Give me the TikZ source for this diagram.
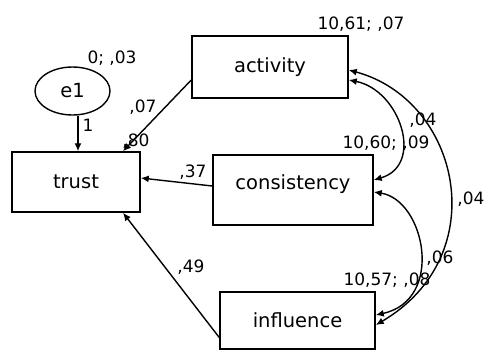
\documentclass[tikz,border=0pt]{standalone}
\usepackage{fontspec}
\setmainfont{DejaVu Sans}
\usetikzlibrary{arrows.meta,shapes.geometric}
\begin{document}
\begin{tikzpicture}[x=1pt,y=-1pt,
  varbox/.style={draw,line width=1.5pt,inner sep=0pt,font=\fontsize{19.5}{21}\selectfont},
  errnode/.style={draw,ellipse,line width=1.4pt,inner sep=0pt,minimum width=75pt,minimum height=48pt,font=\fontsize{19.5}{21}\selectfont},
  num/.style={inner sep=0pt,font=\fontsize{17}{19}\selectfont},
  path/.style={line width=1.4pt,-{Latex[length=8pt,width=7pt]}},
  cov/.style={line width=1.4pt,{Latex[length=8pt,width=7pt]}-{Latex[length=8pt,width=7pt]}}]
\useasboundingbox (0,0) rectangle (485,351);
\node[varbox,minimum width=156pt,minimum height=62pt] (act) at (270,67) {activity};
\node[varbox,minimum width=128pt,minimum height=60pt] (trust) at (76,182) {trust};
\node[varbox,minimum width=160pt,minimum height=70pt,text depth=16pt] (cons) at (293,190) {consistency};
\node[varbox,minimum width=155pt,minimum height=57pt] (inf) at (297.5,320.5) {influence};
\node[errnode] (e1) at (72.5,91) {e1};
% regression paths
\draw[path] (e1.south -| 78,0) -- (trust.north -| 78,0);
\draw[path] ([yshift=-13pt]act.west) -- (trust.north -| 123,0);
\draw[path] ([yshift=4pt]cons.west) -- ([yshift=4pt]trust.east);
\draw[path] ([yshift=-17pt]inf.west) -- (trust.south -| 123,0);
% covariances
\draw[cov] ([yshift=-3pt]act.east) .. controls (460,100) and (495,255) .. ([yshift=-4.5pt]inf.east);
\draw[cov] ([yshift=-13pt]act.east) .. controls (400,90) and (425,165) .. ([yshift=10pt]cons.east);
\draw[cov] ([yshift=-2pt]cons.east) .. controls (425,200) and (445,300) .. ([yshift=5.5pt]inf.east);
% labels
\node[num] (l1) at (88,125) {1};
\node[num] (le1) at (112,58) {0; ,03};
\node[num] (lact) at (143,107) {,07};
\node[num] (ltr) at (136,141) {,80};
\node[num] (lcons) at (193,172) {,37};
\node[num] (linf) at (191,267) {,49};
\node[num] (vact) at (361,24) {10,61; ,07};
\node[num] (vcons) at (386,143) {10,60; ,09};
\node[num] (vinf) at (387,280) {10,57; ,08};
\node[num] (c1) at (423,120) {,04};
\node[num] (c2) at (471,199) {,04};
\node[num] (c3) at (440,258) {,06};
\end{tikzpicture}
\end{document}
